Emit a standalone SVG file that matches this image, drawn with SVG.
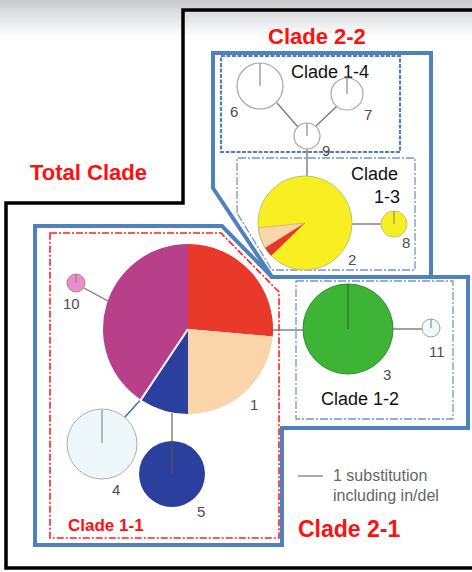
<svg xmlns="http://www.w3.org/2000/svg" width="472" height="572" viewBox="0 0 472 572">
<defs>
<linearGradient id="sky" x1="0" y1="0" x2="0" y2="1">
<stop offset="0" stop-color="#c6c8ca"/>
<stop offset="0.3" stop-color="#dadcde"/>
<stop offset="1" stop-color="#ffffff"/>
</linearGradient>
<style>
.edge{stroke:#7a7a7a;stroke-width:1.4;fill:none}
.tick{stroke:#8a8a8a;stroke-width:1.2}
.num{font-family:"Liberation Sans",Arial,sans-serif;font-size:15px;fill:#4d4d4d}
.lbl{font-family:"Liberation Sans",Arial,sans-serif;font-size:18px;fill:#111}
.red{font-family:"Liberation Sans",Arial,sans-serif;font-weight:bold;fill:#ff1010}
.bluebox{fill:none;stroke:#4f81bd;stroke-width:4;stroke-linejoin:miter}
.dashbox{fill:none;stroke:#4f81bd;stroke-width:2.2;stroke-dasharray:4 1.5}
.thinbox{fill:none;stroke:#6f97d0;stroke-width:1.3;stroke-dasharray:8 2 2 2}
.redbox{fill:none;stroke:#ff2020;stroke-width:1.6;stroke-dasharray:7 2 2 2}
.wnode{fill:#ffffff;stroke:#a8a8a8;stroke-width:1.2}
</style>
</defs>
<rect x="0" y="0" width="472" height="572" fill="#ffffff"/>
<rect x="0" y="0" width="472" height="38" fill="url(#sky)"/>

<g id="total-clade">
<path d="M476,10 H183 V203 H6 V568 H476" fill="none" stroke="#000" stroke-width="3.5"/>
<text class="red" x="30" y="180" font-size="22">Total Clade</text>
</g>

<g id="clade-2-2">
<path class="bluebox" d="M213,53 H431 V277 H272 L213,188 Z"/>
<text class="red" x="268" y="44" font-size="22">Clade 2-2</text>
</g>
<g id="clade-1-4">
<rect class="dashbox" x="221" y="56" width="179" height="96"/>
<text class="lbl" x="291" y="78">Clade 1-4</text>
</g>
<g id="clade-1-3">
<path class="thinbox" d="M237,213 V158 H415 V270 H272 Z" stroke-width="1.6"/>
<text class="lbl" x="351" y="180">Clade</text>
<text class="lbl" x="400" y="203" text-anchor="end">1-3</text>
</g>
<g id="clade-2-1">
<path class="bluebox" d="M35,226 H222 L272,277 H468 V428 H282 V545 H35 Z"/>
<text class="red" x="298" y="537" font-size="23">Clade 2-1</text>
</g>
<g id="clade-1-2">
<rect class="thinbox" x="296" y="281" width="157" height="138"/>
<text class="lbl" x="321" y="405">Clade 1-2</text>
</g>
<g id="clade-1-1">
<path class="redbox" d="M50,233 H221 L279,292 V538 H50 Z"/>
<text class="red" x="68" y="531" font-size="17">Clade 1-1</text>
</g>

<g id="connectors">
<line class="edge" x1="277" y1="103" x2="298" y2="127"/>
<line class="edge" x1="337" y1="106" x2="316" y2="126"/>
<line class="edge" x1="307" y1="149" x2="307" y2="176"/>
<line class="edge" x1="352" y1="224" x2="381" y2="224"/>
<line class="edge" x1="84" y1="288" x2="108" y2="301"/>
<line class="edge" x1="273" y1="330" x2="303" y2="330"/>
<line class="edge" x1="393" y1="329" x2="422" y2="329"/>
<line x1="143" y1="397" x2="125" y2="417" stroke="#3d72c4" stroke-width="1.6"/>
<line class="edge" x1="172" y1="413" x2="172" y2="441"/>
</g>

<g id="node-6">
<circle class="wnode" cx="260" cy="86" r="23"/>
<line class="tick" x1="260" y1="63" x2="260" y2="86"/>
<text class="num" x="230" y="117">6</text>
</g>
<g id="node-7">
<circle class="wnode" cx="347" cy="94" r="16"/>
<line class="tick" x1="347" y1="78" x2="347" y2="94"/>
<text class="num" x="364" y="120">7</text>
</g>
<g id="node-9">
<circle class="wnode" cx="307" cy="136" r="13"/>
<line class="tick" x1="307" y1="123" x2="307" y2="136"/>
<text class="num" x="322" y="156">9</text>
</g>
<g id="node-2">
<circle cx="305" cy="223" r="47" fill="#f7ef22" stroke="#c8c070" stroke-width="1"/>
<path d="M305,223 L258.3,227.9 A47,47 0 0 0 265.1,247.9 Z" fill="#fbd6ad" stroke="#c9a070" stroke-width="0.6"/>
<path d="M305,223 L265.1,247.9 A47,47 0 0 0 271.2,255.7 Z" fill="#e4362a"/>
<text class="num" x="348" y="265">2</text>
</g>
<g id="node-8">
<circle cx="394" cy="224" r="13" fill="#f7ef22" stroke="#c8c070" stroke-width="1"/>
<line class="tick" x1="394" y1="211" x2="394" y2="224"/>
<text class="num" x="402" y="248">8</text>
</g>
<g id="node-1">
<path d="M188,329 L188,244 A85,85 0 0 1 272.7,336.4 Z" fill="#e8392b"/>
<path d="M188,329 L272.7,336.4 A85,85 0 0 1 188,414 Z" fill="#fbd5aa"/>
<path d="M188,329 L188,414 A85,85 0 0 1 141.7,400.3 Z" fill="#2b3f9f"/>
<path d="M188,329 L141.7,400.3 A85,85 0 0 1 188,244 Z" fill="#b8408b"/>
<line x1="188" y1="329" x2="140" y2="401" stroke="#ffffff" stroke-width="2"/>
<text class="num" x="250" y="410">1</text>
</g>
<g id="node-10">
<circle cx="76" cy="283" r="9" fill="#e690c6" stroke="#a06a8a" stroke-width="0.8"/>
<line class="tick" x1="76" y1="274" x2="76" y2="283"/>
<text class="num" x="63" y="309">10</text>
</g>
<g id="node-4">
<circle cx="102" cy="444" r="35" fill="#eef8fb" stroke="#a8b0b0" stroke-width="1"/>
<line class="tick" x1="102" y1="410" x2="102" y2="443"/>
<text class="num" x="112" y="495">4</text>
</g>
<g id="node-5">
<circle cx="172" cy="474" r="33" fill="#2b3f9f"/>
<line x1="172" y1="441" x2="172" y2="474" stroke="#555" stroke-width="1.2"/>
<text class="num" x="197" y="517">5</text>
</g>
<g id="node-3">
<circle cx="348" cy="329" r="45" fill="#3db435" stroke="#2f8f2a" stroke-width="1"/>
<line x1="348" y1="284" x2="348" y2="329" stroke="#257a22" stroke-width="1.3"/>
<text class="num" x="383" y="380">3</text>
</g>
<g id="node-11">
<circle cx="431" cy="328" r="9" fill="#f2f9fb" stroke="#9aa4a8" stroke-width="1"/>
<line class="tick" x1="431" y1="319" x2="431" y2="328"/>
<text class="num" x="429" y="357">11</text>
</g>

<g id="legend">
<line x1="298" y1="476" x2="323" y2="476" stroke="#8a8a8a" stroke-width="1.4"/>
<text x="333" y="481" font-family="Liberation Sans, Arial, sans-serif" font-size="16" fill="#666">1 substitution</text>
<text x="333" y="501" font-family="Liberation Sans, Arial, sans-serif" font-size="16" fill="#666">including in/del</text>
</g>
</svg>
